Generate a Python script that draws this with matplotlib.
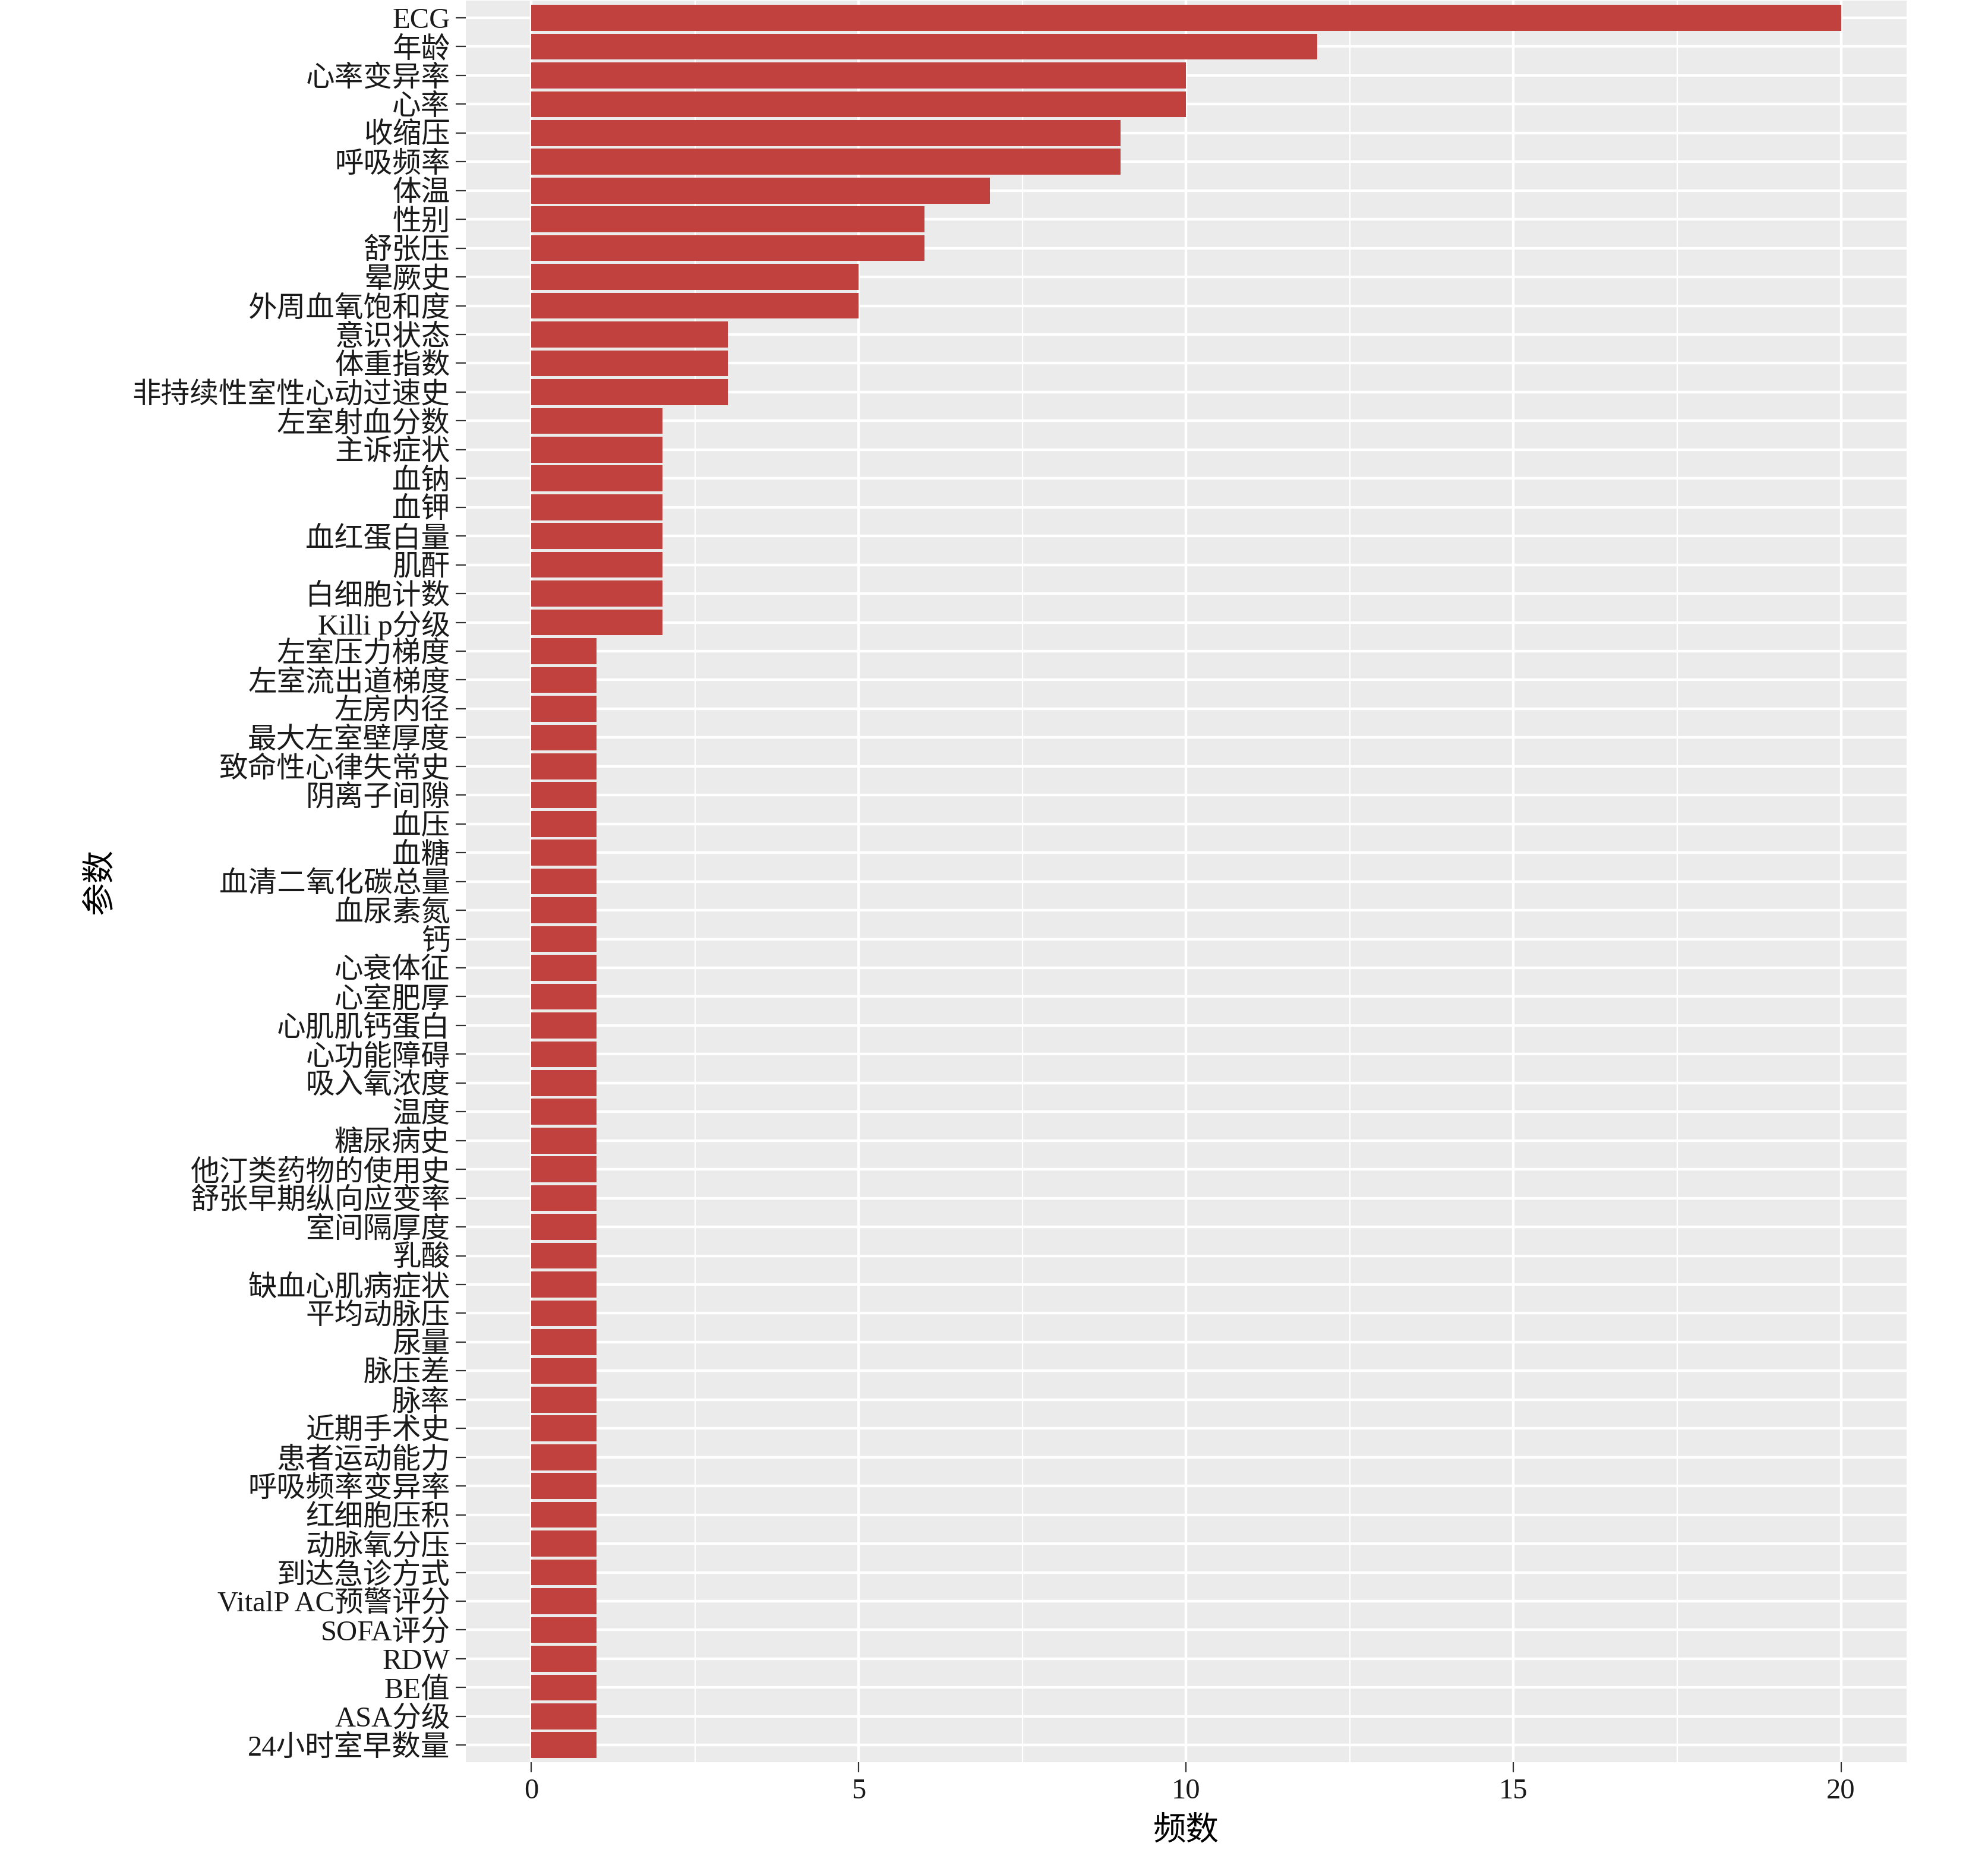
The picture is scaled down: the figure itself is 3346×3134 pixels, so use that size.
import matplotlib
matplotlib.use("Agg")
import matplotlib.pyplot as plt
from matplotlib.ticker import MultipleLocator

plt.rcParams['font.family'] = ['Liberation Serif', 'Noto Sans CJK SC', 'DejaVu Sans']

# data (top to bottom)
params = [
    "ECG", "年龄", "心率变异率", "心率", "收缩压", "呼吸频率", "体温", "性别", "舒张压",
    "晕厥史", "外周血氧饱和度", "意识状态", "体重指数", "非持续性室性心动过速史",
    "左室射血分数", "主诉症状", "血钠", "血钾", "血红蛋白量", "肌酐", "白细胞计数",
    "Killi p分级", "左室压力梯度", "左室流出道梯度", "左房内径", "最大左室壁厚度",
    "致命性心律失常史", "阴离子间隙", "血压", "血糖", "血清二氧化碳总量", "血尿素氮",
    "钙", "心衰体征", "心室肥厚", "心肌肌钙蛋白", "心功能障碍", "吸入氧浓度", "温度",
    "糖尿病史", "他汀类药物的使用史", "舒张早期纵向应变率", "室间隔厚度", "乳酸",
    "缺血心肌病症状", "平均动脉压", "尿量", "脉压差", "脉率", "近期手术史",
    "患者运动能力", "呼吸频率变异率", "红细胞压积", "动脉氧分压", "到达急诊方式",
    "VitalP AC预警评分", "SOFA评分", "RDW", "BE值", "ASA分级", "24小时室早数量",
]
counts = [20, 12, 10, 10, 9, 9, 7, 6, 6, 5, 5, 3, 3, 3,
          2, 2, 2, 2, 2, 2, 2, 2] + [1] * 39

fig = plt.figure(figsize=(33.46, 31.34), dpi=100)
ax = fig.add_axes([0.2343, 0.0535, 0.7247, 0.9462])
ax.set_facecolor("#EBEBEB")

pos = list(range(len(params)))
ax.barh(pos, counts, height=0.9, color="#C0413E", zorder=3)

ax.set_xlim(-1, 21)
ax.set_ylim(len(params) - 0.4, -0.6)
ax.set_yticks(pos)
ax.set_yticklabels(params)
ax.xaxis.set_major_locator(MultipleLocator(5))
ax.xaxis.set_minor_locator(MultipleLocator(2.5))

ax.grid(which="major", color="white", linewidth=3.2, zorder=1)
ax.grid(which="minor", axis="x", color="white", linewidth=1.6, zorder=1)
ax.set_axisbelow(True)
for s in ax.spines.values():
    s.set_visible(False)

ax.tick_params(which="major", length=12, width=1.6, color="#333333",
               labelsize=35, labelcolor="#1A1A1A", pad=7)
ax.tick_params(which="minor", length=0)

ax.set_xlabel("频数", fontsize=40, labelpad=14, color="black")
ax.set_ylabel("参数", fontsize=40, labelpad=20, color="black")

fig.savefig("out.png", dpi=100)
